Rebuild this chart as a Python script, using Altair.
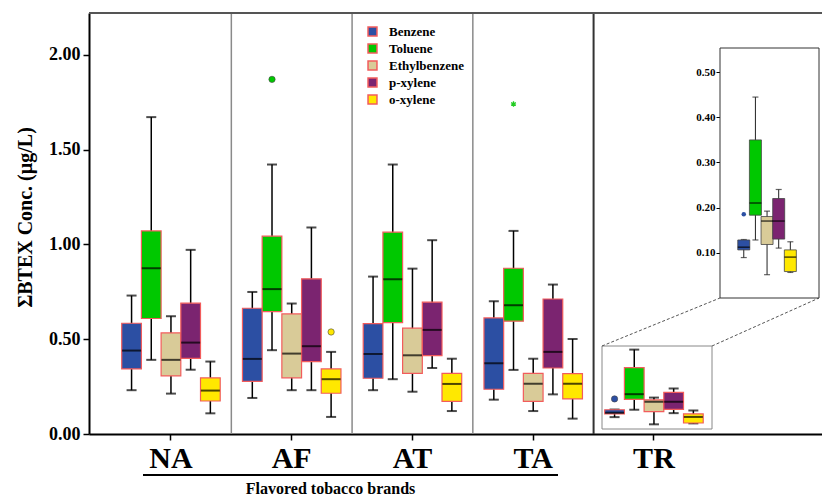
import altair as alt
import pandas as pd

groups = ["NA", "AF", "AT", "TA", "TR"]
compounds = ["Benzene", "Toluene", "Ethylbenzene", "p-xylene", "o-xylene"]
colors = ["#2C4FA3", "#00C800", "#D9CB98", "#7B2470", "#FFE800"]

# rows = groups, columns = compounds
low = [
    [0.231, 0.391, 0.213, 0.339, 0.109],
    [0.190, 0.442, 0.231, 0.231, 0.090],
    [0.231, 0.289, 0.223, 0.348, 0.121],
    [0.181, 0.338, 0.121, 0.209, 0.081],
    [0.089, 0.128, 0.051, 0.110, 0.056],
]
q1 = [
    [0.343, 0.609, 0.306, 0.399, 0.174],
    [0.278, 0.645, 0.296, 0.382, 0.215],
    [0.294, 0.587, 0.320, 0.413, 0.172],
    [0.236, 0.595, 0.172, 0.348, 0.185],
    [0.106, 0.183, 0.118, 0.130, 0.058],
]
median = [
    [0.440, 0.874, 0.391, 0.482, 0.229],
    [0.396, 0.764, 0.424, 0.463, 0.289],
    [0.422, 0.816, 0.415, 0.549, 0.264],
    [0.373, 0.679, 0.265, 0.433, 0.265],
    [0.112, 0.210, 0.170, 0.170, 0.090],
]
q3 = [
    [0.584, 1.071, 0.533, 0.690, 0.296],
    [0.663, 1.043, 0.633, 0.818, 0.343],
    [0.582, 1.064, 0.558, 0.695, 0.320],
    [0.612, 0.874, 0.320, 0.712, 0.318],
    [0.128, 0.350, 0.180, 0.220, 0.106],
]
high = [
    [0.730, 1.671, 0.621, 0.971, 0.382],
    [0.749, 1.421, 0.688, 1.089, 0.433],
    [0.830, 1.421, 0.872, 1.022, 0.397],
    [0.700, 1.071, 0.397, 0.788, 0.501],
    [0.129, 0.445, 0.192, 0.240, 0.124],
]

outlier_group = ["AF", "AF", "TR"]
outlier_compound = ["Toluene", "o-xylene", "Benzene"]
outlier_value = [1.870, 0.538, 0.185]

extreme_group = ["TA"]
extreme_compound = ["Toluene"]
extreme_value = [1.740]

y_ticks = [0.0, 0.5, 1.0, 1.5, 2.0]
inset_ticks = [0.1, 0.2, 0.3, 0.4, 0.5]

rows = []
for gi, g in enumerate(groups):
    for ci, c in enumerate(compounds):
        rows.append(dict(group=g, compound=c, ci=ci, low=low[gi][ci], q1=q1[gi][ci],
                         median=median[gi][ci], q3=q3[gi][ci], high=high[gi][ci]))
df = pd.DataFrame(rows)
out_df = pd.DataFrame({"group": outlier_group, "compound": outlier_compound, "value": outlier_value,
                       "ci": [compounds.index(c) for c in outlier_compound]})
ext_df = pd.DataFrame({"group": extreme_group, "compound": extreme_compound, "value": extreme_value})
one = pd.DataFrame({"a": [0]})

FONT = "Liberation Serif"
W, H = 733, 421

xscale = alt.Scale(domain=groups, paddingInner=0, paddingOuter=0.5352, align=0.167)
xaxis = alt.Axis(labelFont=FONT, labelFontSize=30, labelFontWeight="bold", labelColor="black",
                 labelAngle=0, tickSize=6, tickColor="black", tickWidth=1.5,
                 domainColor="black", domainWidth=2, labelPadding=3,
                 title="Flavored tobacco brands", titleFont=FONT, titleFontSize=16,
                 titleFontWeight="bold", titleColor="black", titleX=241, titleY=59,
                 titleBaseline="alphabetic", titleAlign="center")
oscale = alt.Scale(domain=compounds, paddingInner=0, paddingOuter=0.565)
yscale = alt.Scale(domain=[0, 2.22], nice=False, zero=False)
yaxis = alt.Axis(values=y_ticks, format=".2f", labelFont=FONT, labelFontSize=18,
                 labelFontWeight="bold", labelColor="black", tickSize=6, tickColor="black",
                 tickWidth=1.5, domainColor="black", domainWidth=2, grid=False, labelPadding=3,
                 title="\u03a3BTEX Conc. (\u00b5g/L)", titleFont=FONT, titleFontSize=20,
                 titleFontWeight="bold", titleColor="black", titleX=-58, titleY=204,
                 titleBaseline="alphabetic", titleAlign="center", titleAngle=270)


def X():
    return alt.X("group:N", scale=xscale, axis=xaxis)


def XO():
    return alt.XOffset("compound:N", scale=oscale)


def Y(field):
    return alt.Y(f"{field}:Q", scale=yscale, axis=yaxis)


fill_enc = alt.Fill("compound:N", scale=alt.Scale(domain=compounds, range=colors),
                    legend=alt.Legend(orient="none", legendX=277, legendY=12, title=None,
                                      symbolType="square", symbolSize=80,
                                      symbolStrokeColor="#F25C5C", symbolStrokeWidth=1.5,
                                      labelFont=FONT, labelFontSize=13, labelFontWeight="bold",
                                      labelColor="black", rowPadding=2, labelOffset=10,
                                      padding=0))

base = alt.Chart(df)

dividers = alt.Chart(pd.DataFrame({"group": ["AF", "AT", "TA"]})).mark_rule(
    color="#8a8a8a", strokeWidth=1.5).encode(
    x=alt.X("group:N", scale=xscale, axis=xaxis, bandPosition=0))
divider_tr = alt.Chart(pd.DataFrame({"group": ["TR"]})).mark_rule(
    color="#333333", strokeWidth=2).encode(
    x=alt.X("group:N", scale=xscale, axis=xaxis, bandPosition=0))
top_border = alt.Chart(one).mark_rule(color="#555555", strokeWidth=2).encode(
    x=alt.value(0), x2=alt.value(W), y=alt.value(0))
underline = alt.Chart(one).mark_rule(color="black", strokeWidth=2).encode(
    x=alt.value(54), x2=alt.value(469), y=alt.value(462))

zoom_box = alt.Chart(one).mark_rect(fillOpacity=0, stroke="#888888", strokeWidth=1).encode(
    x=alt.value(513), x2=alt.value(623), y=alt.value(333), y2=alt.value(416))
conn1 = alt.Chart(one).mark_rule(color="#555555", strokeWidth=1, strokeDash=[3, 2]).encode(
    x=alt.value(513), y=alt.value(333), x2=alt.value(631), y2=alt.value(285))
conn2 = alt.Chart(one).mark_rule(color="#555555", strokeWidth=1, strokeDash=[3, 2]).encode(
    x=alt.value(623), y=alt.value(333), x2=alt.value(730), y2=alt.value(285))
inset_frame = alt.Chart(one).mark_rect(fill="white", stroke="#333333", strokeWidth=1).encode(
    x=alt.value(631), x2=alt.value(730), y=alt.value(35), y2=alt.value(285))

whisk = base.mark_rule(color="black", strokeWidth=1.5).encode(x=X(), xOffset=XO(), y=Y("low"), y2="high:Q")
cap_lo = base.mark_tick(color="black", size=10, thickness=2).encode(x=X(), xOffset=XO(), y=Y("low"))
cap_hi = base.mark_tick(color="black", size=10, thickness=2).encode(x=X(), xOffset=XO(), y=Y("high"))
boxes = base.mark_bar(stroke="#F25C5C", strokeWidth=1.2).encode(
    x=X(), xOffset=XO(), y=Y("q1"), y2="q3:Q", fill=fill_enc)
med = base.mark_tick(color="black", size=19, thickness=2).encode(x=X(), xOffset=XO(), y=Y("median"))
outl = alt.Chart(out_df).mark_point(filled=True, size=40, stroke="#444444", strokeWidth=0.6, opacity=1).encode(
    x=X(), xOffset=XO(), y=Y("value"), fill=fill_enc)
star_path = "M0,-1L0,1M-0.87,-0.5L0.87,0.5M-0.87,0.5L0.87,-0.5"
ext = alt.Chart(ext_df).mark_point(shape=star_path, size=30, filled=False, stroke="#22CC22",
                                   strokeWidth=1.3, opacity=1).encode(
    x=X(), xOffset=XO(), y=Y("value"))

main = alt.layer(dividers, divider_tr, top_border, underline, zoom_box, conn1, conn2, inset_frame,
                 whisk, cap_lo, cap_hi, boxes, med, outl, ext)

# inset (zoom of TR)
ixs = alt.Scale(domain=[-55.82, 6.29], nice=False, zero=False)
iys = alt.Scale(domain=[-0.3024, 0.6315], nice=False, zero=False)
iyaxis = alt.Axis(orient="left", offset=-631, values=inset_ticks, format=".2f", domain=False,
                  grid=False, tickSize=4, tickColor="black", labelFont=FONT, labelFontSize=11,
                  labelFontWeight="bold", labelColor="black", labelPadding=1, title=None)


def IX():
    return alt.X("ci:Q", scale=ixs, axis=None)


def IY(field):
    return alt.Y(f"{field}:Q", scale=iys, axis=iyaxis)


tr = base.transform_filter(alt.datum.group == "TR")
i_whisk = tr.mark_rule(color="#222222", strokeWidth=1).encode(x=IX(), y=IY("low"), y2="high:Q")
i_cap_lo = tr.mark_tick(orient="horizontal", color="#222222", size=6, thickness=1.2).encode(x=IX(), y=IY("low"))
i_cap_hi = tr.mark_tick(orient="horizontal", color="#222222", size=6, thickness=1.2).encode(x=IX(), y=IY("high"))
i_box = tr.mark_bar(size=12, stroke="#444444", strokeWidth=0.8).encode(
    x=IX(), y=IY("q1"), y2="q3:Q", fill=alt.Fill("compound:N", scale=alt.Scale(domain=compounds, range=colors), legend=None))
i_med = tr.mark_tick(orient="horizontal", color="black", size=12, thickness=1.5).encode(x=IX(), y=IY("median"))
i_out = alt.Chart(out_df).transform_filter(alt.datum.group == "TR").mark_point(
    filled=True, size=20, color="#2C4FA3", opacity=1).encode(x=IX(), y=IY("value"))

inset = alt.layer(i_whisk, i_cap_lo, i_cap_hi, i_box, i_med, i_out)

chart = alt.layer(main, inset).resolve_scale(x="independent", y="independent").properties(
    width=W, height=H, autosize=alt.AutoSizeParams(type="none"),
    padding={"left": 81, "top": 5, "right": 0, "bottom": 66},
    background="white",
).configure_view(stroke=None)

chart.save("out.html", embed_options={"renderer": "svg", "actions": False})
